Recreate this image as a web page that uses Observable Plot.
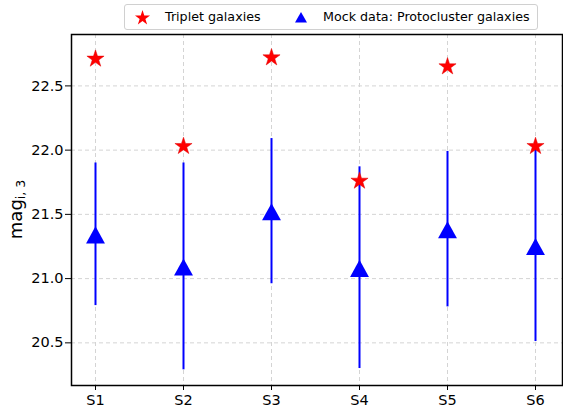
<!DOCTYPE html>
<html><head><meta charset="utf-8">
<script src="https://cdn.jsdelivr.net/npm/d3@7"></script>
<script src="https://cdn.jsdelivr.net/npm/@observablehq/plot@0.6"></script>
<style>
body{margin:0;background:#fff;font-family:"DejaVu Sans",sans-serif;}
#wrap{position:relative;width:563px;height:412px;}
#legend{position:absolute;left:124px;top:4px;width:412px;height:24px;border:1px solid #d0d0d0;border-radius:3px;background:#fff;font-size:12.7px;color:#000;}
#legend span{position:absolute;top:4px;white-space:nowrap;}
</style></head><body><div id="wrap"></div>
<script>
const categories = ["S1","S2","S3","S4","S5","S6"];
const tripletMag = [22.71,22.03,22.72,21.76,22.65,22.03];
const mockMag = [21.34,21.09,21.52,21.08,21.38,21.25];
const mockHigh = [21.90,21.90,22.09,21.87,21.99,22.01];
const mockLow = [20.79,20.29,20.96,20.30,20.78,20.51];
const yTicks = [20.5,21.0,21.5,22.0,22.5];

const rows = categories.map((c,i)=>({cat:c, trip:tripletMag[i], mock:mockMag[i], hi:mockHigh[i], lo:mockLow[i]}));

const tri = {draw(ctx, size){ const r = Math.sqrt(size/Math.PI); ctx.moveTo(0,-r*0.95); ctx.lineTo(r*1.05, r*0.95); ctx.lineTo(-r*1.05, r*0.95); ctx.closePath(); }};

const plot = Plot.plot({
  width:563, height:412,
  marginLeft:71, marginRight:1, marginTop:34, marginBottom:27,
  style:{fontFamily:"DejaVu Sans", fontSize:"14.5px", color:"#000", background:"#fff"},
  x:{type:"point", domain:categories, range:[94.3,536.3], padding:0, label:null},
  y:{domain:[20.168,22.9], label:null},
  marks:[
    Plot.ruleX(categories, {x:d=>d, stroke:"#d4d4d4", strokeDasharray:"4,3"}),
    Plot.ruleY(yTicks, {y:d=>d, stroke:"#d4d4d4", strokeDasharray:"4,3"}),
    Plot.axisX({tickSize:5, tickPadding:4, fontSize:14.5}),
    Plot.axisY({ticks:yTicks, tickFormat:".1f", tickSize:6, tickPadding:2, fontSize:14.5}),
    Plot.ruleX(rows, {x:"cat", y1:"lo", y2:"hi", stroke:"#0000ff", strokeWidth:2}),
    Plot.dot(rows, {x:"cat", y:"mock", symbol:tri, r:9, fill:"#0000ff", stroke:"none"}),
    Plot.dot(rows, {x:"cat", y:"trip", symbol:"star", r:5.4, fill:"#ff0000", stroke:"#e00000", strokeWidth:0.5}),
    Plot.frame({stroke:"#000", strokeWidth:1.5})
  ]
});
document.getElementById("wrap").appendChild(plot);

const svg = d3.select(plot);
const t = svg.append("text")
  .attr("transform","translate(22,209.5) rotate(-90)")
  .attr("text-anchor","middle")
  .attr("font-family","DejaVu Sans")
  .attr("font-size","18px")
  .attr("fill","#000");
t.append("tspan").text("mag");
t.append("tspan").attr("baseline-shift","-25%").attr("font-size","12.5px").text("i, 3");

const legend = document.createElement("div");
legend.id = "legend";
legend.innerHTML = '<svg width="412" height="24" style="position:absolute;left:0;top:0">' +
  '</svg>' +
  '<span style="left:40px">Triplet galaxies</span>' +
  '<span style="left:198px">Mock data: Protocluster galaxies</span>';
document.getElementById("wrap").appendChild(legend);
const lsvg = d3.select(legend).select("svg");
lsvg.append("path").attr("d", d3.symbol(d3.symbolStar, 70)()).attr("transform","translate(17.5,13)").attr("fill","#ff0000");
lsvg.append("path").attr("d", "M0,-5.5L6,5L-6,5Z").attr("transform","translate(176,12.5)").attr("fill","#0000ff");
</script>
</body></html>
